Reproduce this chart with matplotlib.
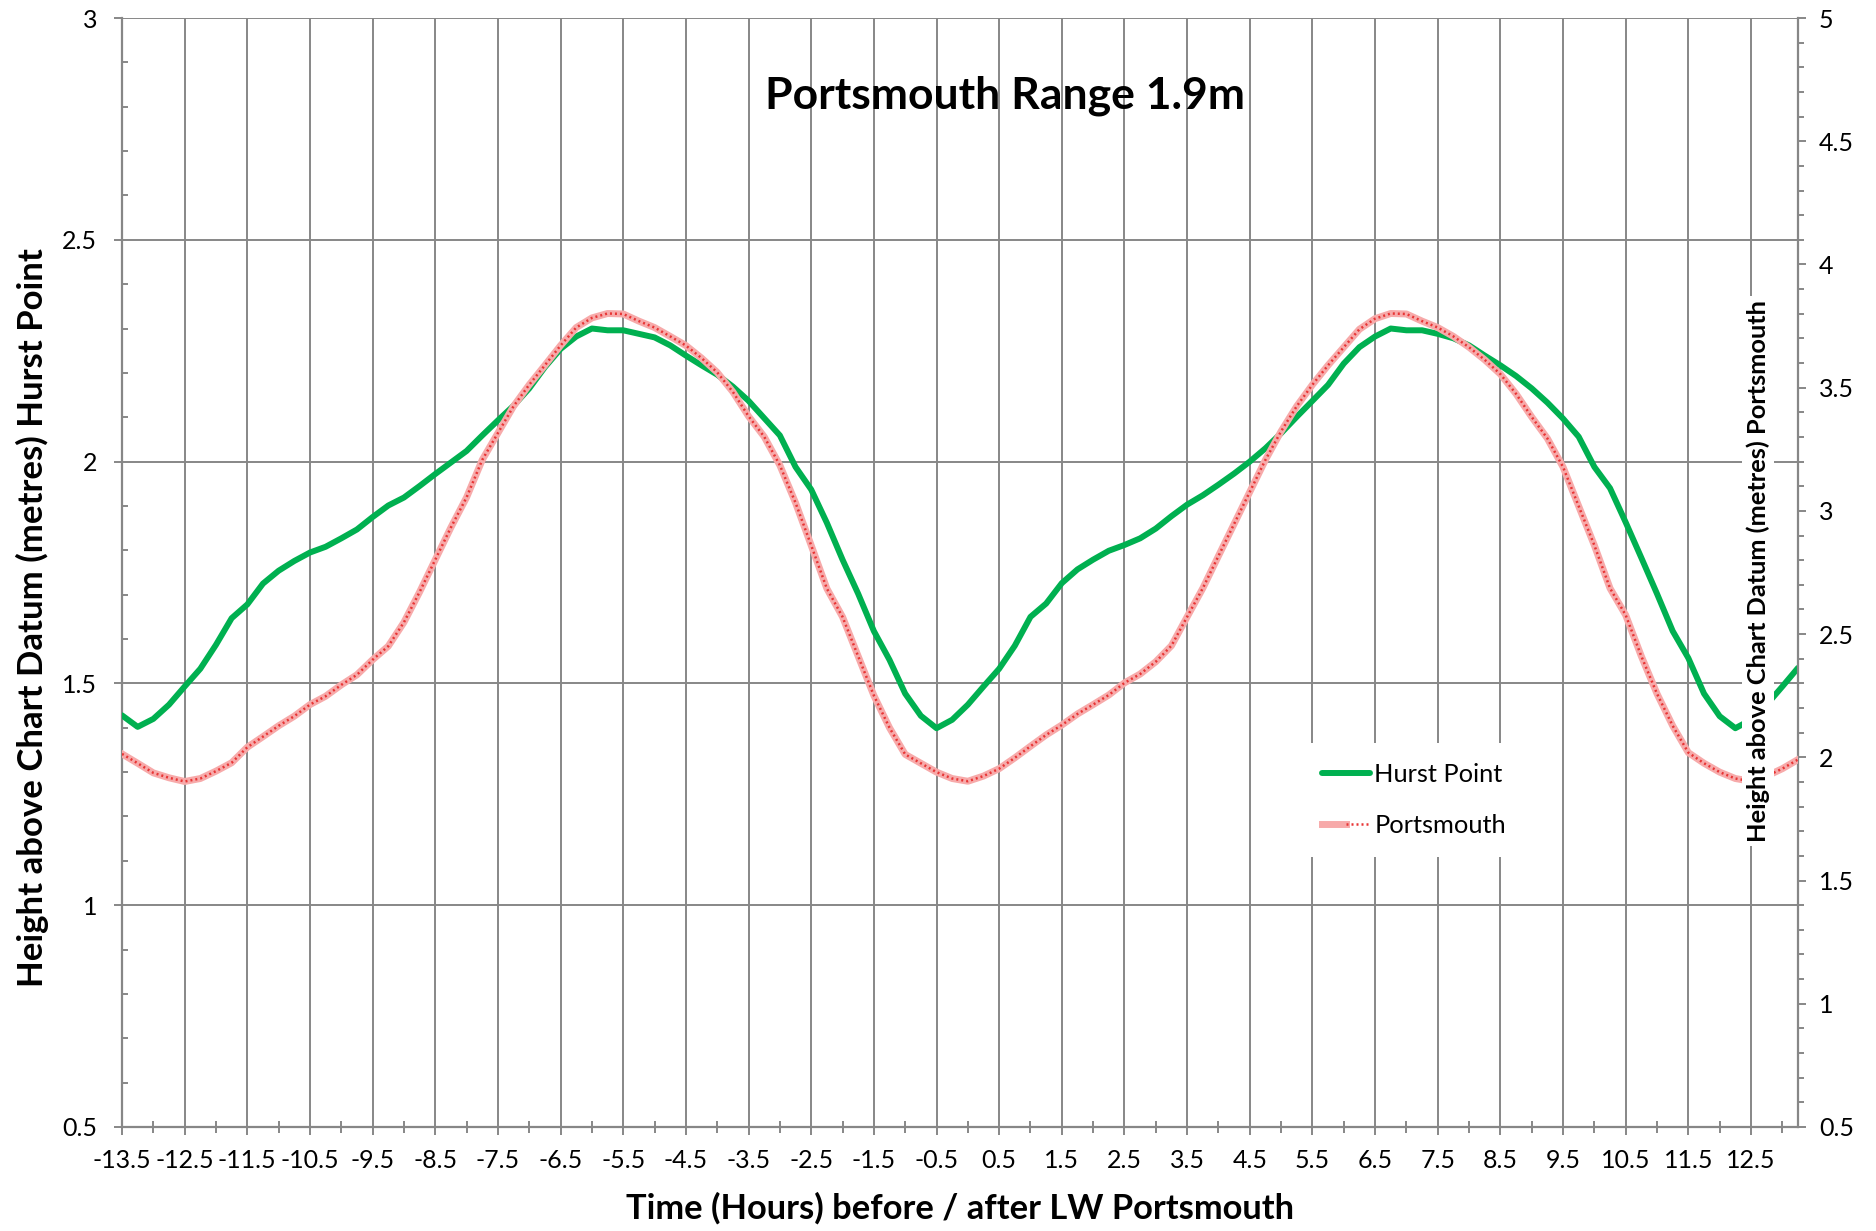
import numpy as np
import matplotlib
matplotlib.use('Agg')
from matplotlib import pyplot as plt
from matplotlib.ticker import MultipleLocator, FixedLocator, FuncFormatter
from matplotlib.legend_handler import HandlerTuple

plt.rcParams['font.family'] = ['Lato', 'DejaVu Sans']

# Time steps of 15 minutes, hours before / after LW Portsmouth
hours = np.arange(-13.5, 13.26, 0.25)

# Height above chart datum (m), Hurst Point - left axis
hurst_point = [
    1.428, 1.402, 1.420, 1.452,
    1.493, 1.533, 1.587, 1.647,
    1.678, 1.725, 1.754, 1.776,
    1.795, 1.808, 1.827, 1.847,
    1.875, 1.901, 1.919, 1.945,
    1.972, 1.998, 2.024, 2.059,
    2.093, 2.126, 2.165, 2.213,
    2.254, 2.282, 2.300, 2.296,
    2.296, 2.288, 2.280, 2.262,
    2.239, 2.217, 2.196, 2.169,
    2.137, 2.098, 2.059, 1.988,
    1.937, 1.862, 1.779, 1.702,
    1.618, 1.553, 1.477, 1.427,
    1.399, 1.418, 1.452, 1.493,
    1.533, 1.585, 1.650, 1.680,
    1.726, 1.757, 1.779, 1.799,
    1.812, 1.827, 1.849, 1.877,
    1.903, 1.924, 1.948, 1.973,
    2.000, 2.030, 2.064, 2.101,
    2.137, 2.173, 2.221, 2.258,
    2.282, 2.300, 2.296, 2.296,
    2.288, 2.278, 2.262, 2.239,
    2.217, 2.193, 2.165, 2.133,
    2.097, 2.056, 1.988, 1.940,
    1.863, 1.783, 1.702, 1.618,
    1.557, 1.477, 1.426, 1.399,
    1.418, 1.452, 1.493, 1.535,
]

# Height above chart datum (m), Portsmouth - right axis
portsmouth = [
    2.014, 1.976, 1.937, 1.917,
    1.902, 1.914, 1.944, 1.978,
    2.041, 2.084, 2.128, 2.167,
    2.214, 2.248, 2.294, 2.335,
    2.396, 2.451, 2.548, 2.671,
    2.802, 2.933, 3.055, 3.207,
    3.316, 3.425, 3.512, 3.591,
    3.671, 3.744, 3.783, 3.801,
    3.799, 3.770, 3.744, 3.708,
    3.671, 3.620, 3.562, 3.483,
    3.384, 3.301, 3.185, 3.033,
    2.860, 2.685, 2.570, 2.410,
    2.251, 2.120, 2.012, 1.976,
    1.940, 1.914, 1.903, 1.924,
    1.954, 1.998, 2.045, 2.091,
    2.131, 2.176, 2.214, 2.253,
    2.302, 2.338, 2.388, 2.453,
    2.570, 2.686, 2.817, 2.947,
    3.077, 3.207, 3.323, 3.425,
    3.512, 3.591, 3.664, 3.737,
    3.780, 3.801, 3.799, 3.770,
    3.744, 3.708, 3.664, 3.613,
    3.555, 3.475, 3.381, 3.294,
    3.178, 3.019, 2.860, 2.686,
    2.577, 2.410, 2.258, 2.128,
    2.019, 1.976, 1.940, 1.914,
    1.903, 1.924, 1.954, 1.991,
]

x_labels = np.arange(-13.5, 12.6, 1.0)

grey = '#878787'
fmt = FuncFormatter(lambda v, p: '{:g}'.format(round(v, 2)))

fig = plt.figure(figsize=(18.76, 12.31), dpi=100)
ax = fig.add_axes([122 / 1876, 1 - 1127 / 1231, 1676 / 1876, 1109 / 1231])
ax2 = ax.twinx()

# Hurst Point on primary axis
h_hurst, = ax.plot(hours, hurst_point, color='#00B050', lw=4.3,
                   solid_capstyle='round', solid_joinstyle='round', zorder=3)

# Portsmouth on secondary axis (hatched look: pink band + red dots)
h_base, = ax2.plot(hours, portsmouth, color='#f7aaaa', lw=5.0, zorder=3)
h_dots, = ax2.plot(hours, portsmouth, color='#e83535', lw=1.8,
                   ls=(0, (0.8, 1.2)), zorder=4)

# Axes ranges / ticks
ax.set_xlim(-13.5, 13.25)
ax.set_ylim(0.5, 3)
ax2.set_ylim(0.5, 5)

ax.xaxis.set_major_locator(FixedLocator(x_labels))
ax.xaxis.set_minor_locator(MultipleLocator(1.0))
ax.xaxis.set_major_formatter(fmt)
ax.yaxis.set_major_locator(MultipleLocator(0.5))
ax.yaxis.set_minor_locator(MultipleLocator(0.1))
ax.yaxis.set_major_formatter(fmt)
ax2.yaxis.set_major_locator(MultipleLocator(0.5))
ax2.yaxis.set_minor_locator(MultipleLocator(0.1))
ax2.yaxis.set_major_formatter(fmt)

ax.grid(which='major', color=grey, lw=1.4)
ax.set_axisbelow(True)

for s in ['top', 'right']:
    ax.spines[s].set_visible(False)
for s in ['top', 'left', 'bottom']:
    ax2.spines[s].set_visible(False)
for s in ['left', 'bottom']:
    ax.spines[s].set_color(grey)
    ax.spines[s].set_linewidth(1.6)
ax2.spines['right'].set_color(grey)
ax2.spines['right'].set_linewidth(1.6)

ax.tick_params(axis='x', which='major', direction='out', length=6, width=1.4,
               color=grey, labelsize=18, pad=10)
ax.tick_params(axis='x', which='minor', direction='inout', length=9, width=1.4,
               color=grey)
ax.tick_params(axis='y', which='major', direction='out', length=6, width=1.4,
               color=grey, labelsize=18, pad=12)
ax.tick_params(axis='y', which='minor', direction='in', length=4, width=1.4,
               color=grey)
ax2.tick_params(axis='y', which='major', direction='out', length=6, width=1.4,
                color=grey, labelsize=18, pad=9)
ax2.tick_params(axis='y', which='minor', direction='out', length=4.5, width=1.4,
                color=grey)

# Title and axis labels
ax.text((1005 - 122) / 1676, (1127 - 96) / 1109, 'Portsmouth Range 1.9m',
        transform=ax.transAxes, ha='center', va='center',
        fontsize=32, fontweight='bold')
fig.text(960 / 1876, 1 - 1208 / 1231, 'Time (Hours) before / after LW Portsmouth',
         ha='center', va='center', fontsize=24.8, fontweight='bold')
fig.text(32 / 1876, 1 - 618 / 1231, 'Height above Chart Datum (metres) Hurst Point',
         ha='center', va='center', rotation=90, fontsize=25, fontweight='bold')
fig.text(1758 / 1876, 1 - 571 / 1231, 'Height above Chart Datum (metres) Portsmouth',
         ha='center', va='center', rotation=90, fontsize=18.3, fontweight='bold',
         bbox=dict(facecolor='white', edgecolor='none', pad=3), zorder=10)

leg = ax2.legend([h_hurst, (h_base, h_dots)], ['Hurst Point', 'Portsmouth'],
                 handler_map={tuple: HandlerTuple(ndivide=None, pad=0)},
                 loc='center', bbox_to_anchor=(1414 / 1876, 1 - 800 / 1231),
                 bbox_transform=fig.transFigure, fontsize=18.3, frameon=True,
                 fancybox=False, framealpha=1, facecolor='white', edgecolor='none',
                 handlelength=1.9, handletextpad=0.15, labelspacing=1.1,
                 borderpad=0.8)
leg.set_zorder(10)

plt.savefig('out.png', dpi=100)
